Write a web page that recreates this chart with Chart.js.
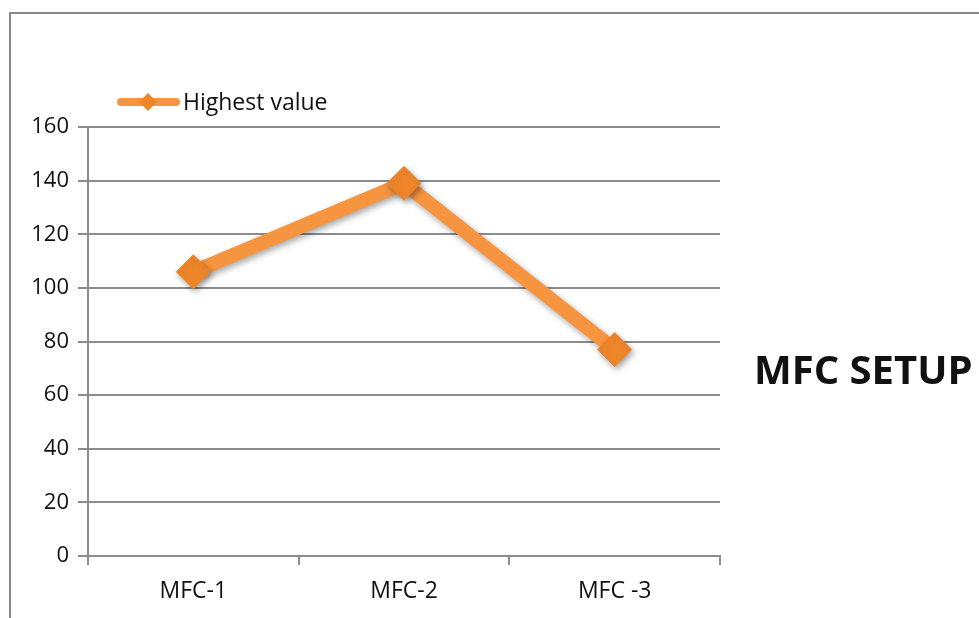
<!DOCTYPE html>
<html>
<head>
<meta charset="utf-8">
<script src="https://cdn.jsdelivr.net/npm/chart.js@4/dist/chart.umd.min.js"></script>
<style>
  html, body { margin: 0; padding: 0; background: #fff; }
  #wrap { position: relative; width: 979px; height: 618px; }
  canvas { display: block; }
</style>
</head>
<body>
<div id="wrap"><canvas id="c" width="979" height="618"></canvas></div>
<script>
// Chart data
const categories = ['MFC-1', 'MFC-2', 'MFC -3'];
const highestValue = [106, 139, 77];
const seriesLabel = 'Highest value';
const yTicks = [0, 20, 40, 60, 80, 100, 120, 140, 160];
const sideTitle = 'MFC SETUP';

const FONT = '"Open Sans", "Liberation Sans", sans-serif';
const LINE_COLOR = '#F7943F';
const MARK_COLOR = '#F0862A';
const AXIS_COLOR = '#8c8c8c';

// Drop shadow under the series line and its markers
const shadowPlugin = {
  id: 'seriesShadow',
  beforeDatasetDraw(chart) {
    const ctx = chart.ctx;
    ctx.save();
    ctx.shadowColor = 'rgba(0,0,0,0.35)';
    ctx.shadowBlur = 6;
    ctx.shadowOffsetX = 2;
    ctx.shadowOffsetY = 3;
  },
  afterDatasetDraw(chart) {
    chart.ctx.restore();
  }
};

// Frame, legend (line + diamond) and side title
const decorPlugin = {
  id: 'decor',
  afterDraw(chart) {
    const ctx = chart.ctx;
    ctx.save();
    // outer frame (top and left edges)
    ctx.strokeStyle = '#8a8a8a';
    ctx.lineWidth = 2;
    ctx.beginPath();
    ctx.moveTo(10, 618);
    ctx.lineTo(10, 13);
    ctx.lineTo(979, 13);
    ctx.stroke();

    // legend
    const ds = chart.data.datasets[0];
    const ly = 102;
    ctx.strokeStyle = ds.borderColor;
    ctx.lineWidth = 8;
    ctx.lineCap = 'round';
    ctx.beginPath();
    ctx.moveTo(121, ly);
    ctx.lineTo(176, ly);
    ctx.stroke();
    ctx.fillStyle = ds.pointBackgroundColor;
    const r = 9;
    ctx.beginPath();
    ctx.moveTo(148, ly - r);
    ctx.lineTo(148 + r, ly);
    ctx.lineTo(148, ly + r);
    ctx.lineTo(148 - r, ly);
    ctx.closePath();
    ctx.fill();
    ctx.fillStyle = '#111';
    ctx.font = '23px ' + FONT;
    ctx.textBaseline = 'middle';
    ctx.textAlign = 'left';
    ctx.fillText(ds.label, 183, ly + 1);

    // side title
    ctx.font = 'bold 40px ' + FONT;
    ctx.textBaseline = 'alphabetic';
    ctx.fillText(sideTitle, 754, 384);
    ctx.restore();
  }
};

new Chart(document.getElementById('c'), {
  type: 'line',
  data: {
    labels: categories,
    datasets: [{
      label: seriesLabel,
      data: highestValue,
      borderColor: LINE_COLOR,
      borderWidth: 14,
      borderCapStyle: 'round',
      borderJoinStyle: 'round',
      tension: 0,
      pointStyle: 'rectRot',
      pointRadius: 17,
      pointHoverRadius: 17,
      pointBackgroundColor: MARK_COLOR,
      pointBorderColor: MARK_COLOR,
      pointBorderWidth: 1
    }]
  },
  options: {
    responsive: false,
    animation: false,
    events: [],
    layout: { padding: { left: 0, top: 127, right: 259, bottom: 0 } },
    plugins: {
      legend: { display: false },
      tooltip: { enabled: false },
      title: { display: false }
    },
    scales: {
      x: {
        type: 'category',
        offset: true,
        grid: {
          offset: true,
          drawOnChartArea: false,
          drawTicks: true,
          tickLength: 9,
          color: AXIS_COLOR,
          lineWidth: 2
        },
        border: { display: true, color: AXIS_COLOR, width: 2 },
        ticks: {
          color: '#111',
          font: { family: FONT, size: 23 },
          padding: 13,
          maxRotation: 0
        },
        afterFit(scale) { scale.height = 62; }
      },
      y: {
        min: 0,
        max: 160,
        afterBuildTicks(scale) { scale.ticks = yTicks.map(v => ({ value: v })); },
        grid: {
          drawOnChartArea: true,
          drawTicks: true,
          tickLength: 10,
          color: AXIS_COLOR,
          lineWidth: 2
        },
        border: { display: true, color: AXIS_COLOR, width: 2 },
        ticks: {
          color: '#111',
          font: { family: FONT, size: 22 },
          padding: 9
        },
        afterFit(scale) { scale.width = 88; }
      }
    }
  },
  plugins: [shadowPlugin, decorPlugin]
});
</script>
</body>
</html>
